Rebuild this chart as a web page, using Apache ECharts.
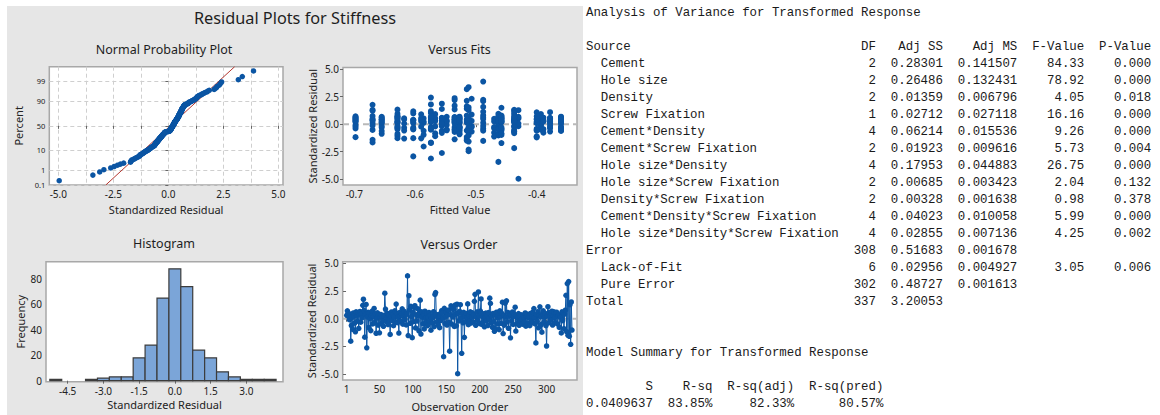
<!DOCTYPE html>
<html><head><meta charset="utf-8">
<script src="https://cdn.jsdelivr.net/npm/echarts@6/dist/echarts.min.js"></script>
<style>
html,body{margin:0;padding:0;background:#fff;width:1160px;height:415px;overflow:hidden;}
#chart{position:absolute;left:7px;top:6px;width:576px;height:409px;}
#anova{position:absolute;left:586px;top:4.5px;margin:0;font-family:'Liberation Mono',monospace;font-size:12.4px;line-height:17px;color:#1a1a1a;}
</style></head><body>
<div id="chart"></div>
<pre id="anova"></pre>
<script>
// ---------------- DATA ----------------
// standardized residuals in observation order (338 obs)
const residuals = [
 0.31,0.72,0.48,0.19,-0.08,0.43,
 -2.03,-0.61,0.12,-0.97,0.52,0.24,
 -0.39,-1.18,0.63,0.27,-0.22,0.57,
 -0.88,0.41,0.66,-0.31,0.46,0.09,
 1.21,1.76,0.74,-1.66,0.38,1.29,
 -2.62,0.17,0.58,-0.79,0.51,0.02,
 -1.07,0.28,0.69,-0.47,0.21,0.93,
 -0.33,0.44,-1.31,0.06,0.53,-0.58,
 0.34,-1.27,0.16,0.39,-0.42,0.11,
 -0.18,-0.68,0.29,2.31,0.87,-0.26,
 0.08,0.49,-0.52,0.32,-0.13,-1.42,
 0.22,0.61,-0.17,0.37,-0.63,0.18,
 0.71,-0.28,1.32,0.47,-0.36,0.13,
 -1.29,0.56,0.26,-0.23,0.42,0.89,
 -0.49,0.23,0.67,-0.07,0.33,-0.56,
 0.46,3.87,-1.52,2.08,0.81,-0.41,1.12,
 0.19,-1.71,0.59,-0.27,1.02,1.18,
 -0.83,0.36,-0.21,0.91,0.28,-1.09,0.54,
 1.68,-1.38,0.62,0.14,-0.46,0.43,
 -0.92,0.68,0.07,-0.34,0.49,-0.62,
 0.17,0.57,-0.24,0.31,-1.03,0.04,-0.38,
 0.24,0.64,-0.71,2.19,2.36,0.39,
 -0.29,0.12,-0.53,0.26,-0.81,0.47,
 -0.16,0.73,0.55,0.09,-3.43,0.94,
 -0.44,0.21,0.61,-0.57,0.34,0.78,
 -0.32,-2.93,0.37,1.17,-0.48,0.98,
 0.16,0.86,-0.69,1.23,0.41,-0.64,1.31,
 -4.96,0.52,-0.19,0.66,1.27,0.06,
 -3.12,0.43,-0.37,0.58,-1.68,0.22,
 -0.27,0.48,0.11,1.34,-0.54,0.29,
 -0.21,0.63,-0.39,0.18,0.53,-0.28,0.36,
 1.57,2.21,-0.59,0.13,0.62,-0.16,
 2.42,0.27,-0.43,0.69,1.79,-0.51,
 0.19,-0.32,0.44,-0.73,0.08,0.51,
 -0.19,0.33,-0.61,0.56,0.01,1.86,1.38,
 -0.37,0.24,-0.77,0.48,-0.26,-1.13,
 0.38,-0.91,0.59,0.12,-0.47,0.31,
 -0.98,0.72,0.17,-0.42,0.49,1.49,
 -1.34,0.28,-0.58,1.41,0.14,1.62,
 -0.29,0.57,-0.86,0.23,0.46,-1.72,0.33,
 -0.18,0.61,-0.51,0.21,0.38,1.04,
 -1.11,0.26,-0.43,0.09,0.47,-0.59,
 0.21,-0.17,0.36,-0.02,-0.49,0.32,
 0.07,-0.29,0.52,-0.67,0.19,0.41,
 -0.41,0.13,0.27,-0.62,0.48,-0.21,
 0.18,0.58,-0.34,0.92,0.11,-0.47,
 -2.18,0.39,-0.23,0.64,-0.82,0.28,
 1.08,0.16,-0.52,-1.21,0.44,0.71,
 -0.31,0.14,0.49,-0.63,-2.46,0.27,
 1.09,-0.38,0.57,0.22,-0.14,0.53,
 0.68,-0.57,0.29,0.63,0.07,-0.33,0.46,
 0.59,-0.46,0.24,0.37,-0.78,0.26,
 0.12,-1.28,0.62,-0.17,0.51,-0.89,
 0.42,0.77,2.12,-1.17,3.18,-1.49,
 3.36,-1.58,1.27,-2.31,1.52,-1.02
];
// fitted value of each design cell, and number of consecutive observations in it
const cellFit = [-0.698,-0.586,-0.698,-0.655,-0.670,-0.556,-0.629,-0.618,-0.603,-0.507,
 -0.670,-0.655,-0.629,-0.590,-0.548,-0.488,-0.574,-0.567,-0.535,-0.527,
 -0.463,-0.535,-0.527,-0.463,-0.458,-0.603,-0.437,-0.430,-0.574,-0.535,
 -0.527,-0.488,-0.574,-0.512,-0.556,-0.470,-0.463,-0.458,-0.515,-0.458,
 -0.437,-0.400,-0.393,-0.378,-0.360,-0.393,-0.437,-0.400,-0.512,-0.378,
 -0.360,-0.389,-0.629,-0.515,-0.512];
const cellSize = [6,6,6,6,6,6,6,6,6,6, 6,6,6,6,6,7,6,7,6,6, 7,6,6,6,6,6,7,6,6,6,
 7,6,6,6,7,6,6,6,6,7, 6,6,6,6,6,6,6,6,6,6, 7,6,6,6,6];
// histogram (bin centre, frequency), bin width 0.5
const histCenters = [-5.0,-4.5,-4.0,-3.5,-3.0,-2.5,-2.0,-1.5,-1.0,-0.5,0.0,0.5,1.0,1.5,2.0,2.5,3.0,3.5,4.0];
const histCounts  = [1,0,0,1,2,3,3,18,28,65,88,74,24,18,7,3,1,1,1];
const histBinWidth = 0.5;
// tick labels
const probPercentTicks = [0.1,1,10,50,90,99,99.9];
const probXTicks = [-5,-2.5,0,2.5,5];
const probXGrid = [-5,-3.75,-2.5,-1.25,0,1.25,2.5,3.75,5];
const residTicks = [-5,-2.5,0,2.5,5];
const fitsTicks = [-0.7,-0.6,-0.5,-0.4];
const histXTicks = [-4.5,-3.0,-1.5,0,1.5,3.0];
const histYTicks = [0,20,40,60,80];
const orderTicks = [1,50,100,150,200,250,300];

// ANOVA table
const anovaTitle = 'Analysis of Variance for Transformed Response';
const sources = ['Cement','Hole size','Density','Screw Fixation','Cement*Density','Cement*Screw Fixation',
 'Hole size*Density','Hole size*Screw Fixation','Density*Screw Fixation','Cement*Density*Screw Fixation',
 'Hole size*Density*Screw Fixation','Error','Lack-of-Fit','Pure Error','Total'];
const sourceIndent = [1,1,1,1,1,1,1,1,1,1,1,0,1,1,0];
const dfs = [2,2,2,1,4,2,4,2,2,4,4,308,6,302,337];
const adjSS = ['0.28301','0.26486','0.01359','0.02712','0.06214','0.01923','0.17953','0.00685','0.00328','0.04023','0.02855','0.51683','0.02956','0.48727','3.20053'];
const adjMS = ['0.141507','0.132431','0.006796','0.027118','0.015536','0.009616','0.044883','0.003423','0.001638','0.010058','0.007136','0.001678','0.004927','0.001613',''];
const fValues = ['84.33','78.92','4.05','16.16','9.26','5.73','26.75','2.04','0.98','5.99','4.25','','3.05','',''];
const pValues = ['0.000','0.000','0.018','0.000','0.000','0.004','0.000','0.132','0.378','0.000','0.002','','0.006','',''];
const summaryTitle = 'Model Summary for Transformed Response';
const summaryHeads = ['S','R-sq','R-sq(adj)','R-sq(pred)'];
const summaryVals = ['0.0409637','83.85%','82.33%','80.57%'];

// ---------------- TEXT TABLE ----------------
const lp = (s,n)=>String(s).padStart(n,' ');
const rp = (s,n)=>String(s).padEnd(n,' ');
const L = [anovaTitle, ''];
L.push(rp('Source',36)+lp('DF',3)+'  '+lp('Adj SS',7)+'  '+lp('Adj MS',8)+lp('F-Value',9)+lp('P-Value',9));
sources.forEach((s,i)=>{
  L.push((rp((sourceIndent[i]?'  ':'')+s,36)+lp(dfs[i],3)+'  '+lp(adjSS[i],7)+'  '+lp(adjMS[i],8)+lp(fValues[i],9)+lp(pValues[i],9)).replace(/\s+$/,''));
});
L.push('','',summaryTitle,'');
const sw=[9,8,11,12];
L.push(summaryHeads.map((h,i)=>lp(h,sw[i])).join(''));
L.push(summaryVals.map((h,i)=>lp(h,sw[i])).join(''));
document.getElementById('anova').textContent = L.join('\n');

// ---------------- HELPERS ----------------
function invNorm(p){
 const a=[-3.969683028665376e+01,2.209460984245205e+02,-2.759285104469687e+02,1.383577518672690e+02,-3.066479806614716e+01,2.506628277459239e+00];
 const b=[-5.447609879822406e+01,1.615858368580409e+02,-1.556989798598866e+02,6.680131188771972e+01,-1.328068155288572e+01];
 const c=[-7.784894002430293e-03,-3.223964580411365e-01,-2.400758277161838e+00,-2.549732539343734e+00,4.374664141464968e+00,2.938163982698783e+00];
 const d=[7.784695709041462e-03,3.224671290700398e-01,2.445134137142996e+00,3.754408661907416e+00];
 const pl=0.02425, ph=1-pl; let q,r;
 if(p<pl){q=Math.sqrt(-2*Math.log(p));return (((((c[0]*q+c[1])*q+c[2])*q+c[3])*q+c[4])*q+c[5])/((((d[0]*q+d[1])*q+d[2])*q+d[3])*q+1);}
 if(p<=ph){q=p-0.5;r=q*q;return (((((a[0]*r+a[1])*r+a[2])*r+a[3])*r+a[4])*r+a[5])*q/(((((b[0]*r+b[1])*r+b[2])*r+b[3])*r+b[4])*r+1);}
 q=Math.sqrt(-2*Math.log(1-p));return -(((((c[0]*q+c[1])*q+c[2])*q+c[3])*q+c[4])*q+c[5])/((((d[0]*q+d[1])*q+d[2])*q+d[3])*q+1);
}
const n = residuals.length;
const fitted = [];
cellSize.forEach((s,i)=>{for(let k=0;k<s;k++) fitted.push(cellFit[i]);});
const sorted = residuals.slice().sort((x,y)=>x-y);
const probPts = sorted.map((v,i)=>[v, invNorm((i+1-0.3)/(n+0.4))]);
const mean = residuals.reduce((s,v)=>s+v,0)/n;
const sd = Math.sqrt(residuals.reduce((s,v)=>s+(v-mean)*(v-mean),0)/(n-1));
const zMin = invNorm(0.001), zMax = invNorm(0.999);
const fitLine = [[mean+sd*zMin, zMin],[mean+sd*zMax, zMax]];
const probZ = probPercentTicks.map(p=>invNorm(p/100));
const fitsPts = residuals.map((r,i)=>[fitted[i], r]);
const orderPts = residuals.map((r,i)=>[i+1, r]);
const histData = histCenters.map((c,i)=>[c, histCounts[i]]).filter(d=>d[1]>0);

// ---------------- CHART ----------------
const OX=7, OY=6;
const FONT='"Noto Sans", sans-serif';
const BLUE='#0b55a3';
const TXT='#222222';
const ext = {
  probX:[-5.41,5.21], fitsX:[-0.7186,-0.3337], resY:[-5.53,5.15], histX:[-5.41,4.54], histY:[-0.8,93.6], orderX:[-5,345.5]
};
function axis(gi, minmax, labels, fmt, name, gap, o){
  o = o||{};
  return Object.assign({
    type:'value', gridIndex:gi, min:minmax[0], max:minmax[1],
    axisLine:{show:false},
    axisTick:{show:true, length:3, lineStyle:{color:'#666', width:1}, customValues: o.tickVals||labels},
    axisLabel:{customValues:labels, formatter:fmt, color:TXT, fontSize:o.fs||10, fontFamily:FONT, margin:o.margin||4},
    splitLine:{show:!!o.split, lineStyle:{color:'#cfcfcf', width:1, type:[4,3]}},
    name:name, nameLocation:'middle', nameGap:gap,
    nameTextStyle:{color:TXT, fontSize:11, fontFamily:FONT}
  }, o.extra||{});
}
const f1 = v=>v.toFixed(1);
const gridStyle = {show:true, backgroundColor:'#ffffff', borderColor:'#a8a8a8', borderWidth:1.5, containLabel:false};
const option = {
  animation:false,
  backgroundColor:'#e6e6e6',
  grid:[
    Object.assign({left:49.3-OX, top:66.7-OY, width:233.7, height:118.3}, gridStyle),
    Object.assign({left:343-OX, top:67.5-OY, width:234, height:117.5}, gridStyle),
    Object.assign({left:46-OX, top:261.7-OY, width:237, height:120}, gridStyle),
    Object.assign({left:342.7-OX, top:261.7-OY, width:234.3, height:118.3}, gridStyle)
  ],
  xAxis:[
    axis(0, ext.probX, probXTicks, f1, 'Standardized Residual', 19, {split:true, tickVals:probXGrid}),
    axis(1, ext.fitsX, fitsTicks, f1, 'Fitted Value', 19),
    axis(2, ext.histX, histXTicks, f1, 'Standardized Residual', 17),
    axis(3, ext.orderX, orderTicks, v=>String(v), 'Observation Order', 21)
  ],
  yAxis:[
    axis(0, [zMin,zMax], probZ, v=>{let b=0;probZ.forEach((z,i)=>{if(Math.abs(z-v)<Math.abs(probZ[b]-v))b=i;});return String(probPercentTicks[b]);}, 'Percent', 25, {split:true, fs:7.5}),
    axis(1, ext.resY, residTicks, f1, 'Standardized Residual', 25),
    axis(2, ext.histY, histYTicks, v=>String(v), 'Frequency', 20),
    axis(3, ext.resY, residTicks, f1, 'Standardized Residual', 25)
  ],
  graphic:[
    {type:'text', x:295-OX, y:18-OY, style:{text:'Residual Plots for Stiffness', fill:'#1e1e1e', font:'16.3px '+FONT, align:'center', verticalAlign:'middle'}},
    {type:'text', x:164-OX, y:49-OY, style:{text:'Normal Probability Plot', fill:'#1e1e1e', font:'12.5px '+FONT, align:'center', verticalAlign:'middle'}},
    {type:'text', x:459.5-OX, y:49-OY, style:{text:'Versus Fits', fill:'#1e1e1e', font:'12.5px '+FONT, align:'center', verticalAlign:'middle'}},
    {type:'text', x:164-OX, y:243.5-OY, style:{text:'Histogram', fill:'#1e1e1e', font:'12.5px '+FONT, align:'center', verticalAlign:'middle'}},
    {type:'text', x:459-OX, y:244-OY, style:{text:'Versus Order', fill:'#1e1e1e', font:'12.5px '+FONT, align:'center', verticalAlign:'middle'}}
  ],
  series:[
    {type:'line', xAxisIndex:0, yAxisIndex:0, data:fitLine, symbol:'none', silent:true, z:2,
     lineStyle:{color:'#b5372f', width:1}},
    {type:'scatter', xAxisIndex:0, yAxisIndex:0, data:probPts, symbolSize:5.5, z:3, itemStyle:{color:BLUE, opacity:1}},
    {type:'line', xAxisIndex:1, yAxisIndex:1, data:[[ext.fitsX[0],0],[ext.fitsX[1],0]], symbol:'none', silent:true, z:1,
     lineStyle:{color:'#b9b9b9', width:2, type:[6,4]}},
    {type:'scatter', xAxisIndex:1, yAxisIndex:1, data:fitsPts, symbolSize:6, z:3, itemStyle:{color:BLUE, opacity:1}},
    {type:'custom', xAxisIndex:2, yAxisIndex:2, data:histData, z:2,
     renderItem:function(params, api){
       const c=api.value(0), h=api.value(1);
       const p0=api.coord([c-histBinWidth/2, h]);
       const p1=api.coord([c+histBinWidth/2, 0]);
       return {type:'rect', shape:{x:p0[0], y:p0[1], width:p1[0]-p0[0], height:p1[1]-p0[1]},
               style:{fill:'#7ba5d8', stroke:'#3c3c3c', lineWidth:1.2}};
     }},
    {type:'line', xAxisIndex:3, yAxisIndex:3, data:[[ext.orderX[0],0],[ext.orderX[1],0]], symbol:'none', silent:true, z:1,
     lineStyle:{color:'#b9b9b9', width:2, type:[6,4]}},
    {type:'line', xAxisIndex:3, yAxisIndex:3, data:orderPts, symbol:'circle', symbolSize:5.5, showAllSymbol:true, z:3,
     lineStyle:{color:BLUE, width:1}, itemStyle:{color:BLUE, opacity:1}}
  ]
};
const chart = echarts.init(document.getElementById('chart'), null, {renderer:'svg'});
chart.setOption(option);
</script>
</body></html>
